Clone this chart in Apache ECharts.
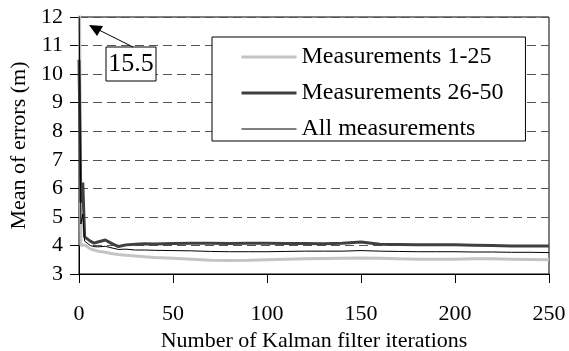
<!DOCTYPE html>
<html style="height: 100%">
<head>
    <meta charset="utf-8">
</head>
<body style="height: 100%; margin: 0; background-color: #fff;">
<div id="container" style="width: 569px; height: 351px"></div>
<script type="text/javascript" src="https://cdn.jsdelivr.net/npm/echarts@6/dist/echarts.min.js"></script>
<script type="text/javascript">
    // iterations (x) and mean error per group (y, metres)
    var iterations = [0, 1, 2, 3, 4, 6, 8, 10, 14, 17, 21, 25, 30, 35, 40, 50, 60, 70, 80, 90, 100, 110, 120, 130, 140, 150, 160, 170, 180, 190, 200, 210, 220, 230, 240, 250];
    var meas1to25 = [15.5, 4.0, 4.05, 4.02, 3.95, 3.88, 3.84, 3.8, 3.76, 3.72, 3.68, 3.66, 3.63, 3.6, 3.58, 3.55, 3.52, 3.48, 3.47, 3.48, 3.5, 3.52, 3.53, 3.54, 3.55, 3.56, 3.55, 3.53, 3.52, 3.52, 3.52, 3.53, 3.53, 3.52, 3.51, 3.5];
    var meas26to50 = [10.5, 5.5, 6.2, 4.3, 4.25, 4.15, 4.08, 4.12, 4.19, 4.08, 3.96, 4.02, 4.04, 4.06, 4.05, 4.07, 4.08, 4.08, 4.07, 4.08, 4.08, 4.07, 4.07, 4.06, 4.08, 4.12, 4.04, 4.03, 4.02, 4.02, 4.02, 4.01, 4.0, 3.98, 3.98, 3.98];
    var measAll = [13.0, 4.75, 5.1, 4.15, 4.1, 4.0, 3.96, 3.95, 3.97, 3.92, 3.86, 3.87, 3.84, 3.84, 3.83, 3.82, 3.81, 3.79, 3.78, 3.78, 3.78, 3.79, 3.8, 3.8, 3.8, 3.82, 3.8, 3.79, 3.78, 3.78, 3.78, 3.77, 3.77, 3.76, 3.76, 3.75];
    var seriesNames = ['Measurements 1-25', 'Measurements 26-50', 'All measurements'];
    var seriesColors = ['#c4c4c4', '#404040', '#000'];
    var seriesWidths = [3, 3, 1];

    function pairs(ys) {
        return iterations.map(function (x, i) { return [x, ys[i]]; });
    }

    var font = 'Liberation Serif';
    var dom = document.getElementById('container');
    var myChart = echarts.init(dom);

    var legendData = seriesNames.map(function (n, i) {
        return { name: n, lineStyle: { color: seriesColors[i], width: seriesWidths[i] } };
    });

    var option = {
        animation: false,
        textStyle: { fontFamily: font, color: '#000' },
        grid: {
            left: 79, right: 20, top: 17, bottom: 77,
            outerBoundsMode: 'none',
            containLabel: false,
            show: true, borderColor: '#000', borderWidth: 1
        },
        legend: {
            orient: 'vertical',
            left: 212, top: 37,
            padding: [8, 22, 0, 28],
            itemGap: 12,
            itemWidth: 55,
            itemHeight: 14,
            borderColor: '#000',
            borderWidth: 1,
            backgroundColor: '#fff',
            itemStyle: { opacity: 0 },
            textStyle: { fontFamily: font, fontSize: 24, color: '#000' },
            data: legendData
        },
        xAxis: {
            type: 'value',
            min: 0, max: 250, interval: 50,
            name: 'Number of Kalman filter iterations',
            nameLocation: 'middle',
            nameGap: 55,
            nameTextStyle: { fontFamily: font, fontSize: 22, color: '#000' },
            axisLine: { lineStyle: { color: '#000', width: 1 } },
            axisTick: { show: true, length: 9, lineStyle: { color: '#000' } },
            axisLabel: { fontFamily: font, fontSize: 22, color: '#000', margin: 29 },
            splitLine: { show: false }
        },
        yAxis: {
            type: 'value',
            min: 3, max: 12, interval: 1,
            name: 'Mean of errors (m)',
            nameLocation: 'middle',
            nameGap: 47,
            nameTextStyle: { fontFamily: font, fontSize: 22, color: '#000' },
            axisLine: { show: true, lineStyle: { color: '#000', width: 1 } },
            axisTick: { show: true, length: 9, lineStyle: { color: '#000' } },
            axisLabel: { fontFamily: font, fontSize: 22, color: '#000', margin: 16 },
            splitLine: { show: true, lineStyle: { color: '#555', type: [9, 5], width: 1 } }
        },
        graphic: [
            {
                type: 'rect',
                shape: { x: 106, y: 47, width: 50, height: 34 },
                style: { fill: '#fff', stroke: '#000', lineWidth: 1 },
                z: 100
            },
            {
                type: 'text',
                x: 131, y: 64,
                style: { text: '15.5', fontFamily: font, fontSize: 26, fill: '#000', align: 'center', verticalAlign: 'middle' },
                z: 101
            },
            {
                type: 'line',
                shape: { x1: 133, y1: 47, x2: 99, y2: 30 },
                style: { stroke: '#000', lineWidth: 1 },
                z: 100
            },
            {
                type: 'polygon',
                shape: { points: [[89, 25], [103, 26], [97, 36]] },
                style: { fill: '#000' },
                z: 100
            }
        ],
        series: [
            {
                name: seriesNames[0],
                type: 'line',
                symbol: 'none',
                data: pairs(meas1to25),
                lineStyle: { color: seriesColors[0], width: seriesWidths[0] },
                itemStyle: { color: seriesColors[0] }
            },
            {
                name: seriesNames[1],
                type: 'line',
                symbol: 'none',
                data: pairs(meas26to50),
                lineStyle: { color: seriesColors[1], width: seriesWidths[1] },
                itemStyle: { color: seriesColors[1] }
            },
            {
                name: seriesNames[2],
                type: 'line',
                symbol: 'none',
                data: pairs(measAll),
                lineStyle: { color: seriesColors[2], width: seriesWidths[2] },
                itemStyle: { color: seriesColors[2] }
            }
        ]
    };
    myChart.setOption(option);
</script>
</body>
</html>
